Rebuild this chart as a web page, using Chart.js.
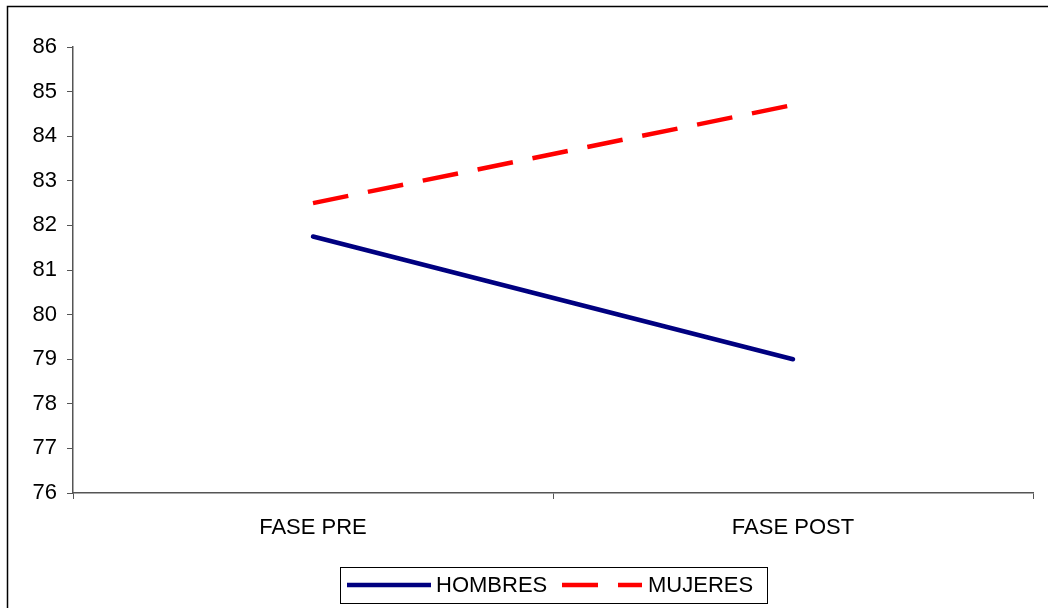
<!DOCTYPE html>
<html>
<head>
<meta charset="utf-8">
<script src="https://cdn.jsdelivr.net/npm/chart.js@4/dist/chart.umd.min.js"></script>
<style>
  html, body { margin: 0; padding: 0; background: #fff; }
  #wrap { width: 1048px; height: 608px; position: relative; }
</style>
</head>
<body>
<div id="wrap"><canvas id="c" width="1048" height="608"></canvas></div>
<script>
// Categories (phases) and the two series
const categories = ['FASE PRE', 'FASE POST'];
const hombres = [81.75, 79.0];
const mujeres = [82.5, 84.7];
const seriesNames = ['HOMBRES', 'MUJERES'];
const yTicks = [76, 77, 78, 79, 80, 81, 82, 83, 84, 85, 86];

const FONT = '"Liberation Sans", Arial, sans-serif';
const AXIS = '#555555';

// Frame around the figure (top and left edges visible)
const framePlugin = {
  id: 'frame',
  beforeDraw(chart) {
    const ctx = chart.ctx;
    ctx.save();
    ctx.fillStyle = '#fff';
    ctx.fillRect(0, 0, chart.width, chart.height);
    ctx.strokeStyle = '#000';
    ctx.lineWidth = 1.5;
    ctx.beginPath();
    ctx.moveTo(7.5, chart.height);
    ctx.lineTo(7.5, 6.5);
    ctx.lineTo(chart.width, 6.5);
    ctx.stroke();
    ctx.restore();
  }
};

// Boxed legend at the bottom
const boxLegend = {
  id: 'boxLegend',
  afterDraw(chart) {
    const ctx = chart.ctx;
    const ds = chart.data.datasets;
    ctx.save();
    ctx.font = '22px ' + FONT;
    ctx.textBaseline = 'middle';
    const x0 = 340, y0 = 567, w = 427, h = 36;
    ctx.strokeStyle = '#000';
    ctx.lineWidth = 1;
    ctx.strokeRect(x0 + 0.5, y0 + 0.5, w, h);
    const cy = y0 + h / 2;
    const items = [
      { sx: 347, ex: 431, tx: 436 },
      { sx: 562, ex: 642, tx: 648 }
    ];
    ds.forEach((d, i) => {
      const it = items[i];
      ctx.strokeStyle = d.borderColor;
      ctx.lineWidth = d.borderWidth;
      ctx.lineCap = 'butt';
      ctx.setLineDash(d.borderDash || []);
      ctx.beginPath();
      ctx.moveTo(it.sx, cy);
      ctx.lineTo(it.ex, cy);
      ctx.stroke();
      ctx.setLineDash([]);
      ctx.fillStyle = '#000';
      ctx.fillText(d.label, it.tx, cy + 1);
    });
    ctx.restore();
  }
};

new Chart(document.getElementById('c'), {
  type: 'line',
  data: {
    labels: categories,
    datasets: [
      {
        label: seriesNames[0],
        data: hombres,
        borderColor: '#000080',
        backgroundColor: '#000080',
        borderWidth: 4.5,
        pointRadius: 0,
        tension: 0,
        borderCapStyle: 'round'
      },
      {
        label: seriesNames[1],
        data: mujeres,
        borderColor: '#ff0000',
        backgroundColor: '#ff0000',
        borderWidth: 4.5,
        borderDash: [36, 20],
        pointRadius: 0,
        tension: 0,
        borderCapStyle: 'butt'
      }
    ]
  },
  options: {
    responsive: false,
    animation: false,
    events: [],
    layout: { padding: { left: 0, right: 15, top: 47, bottom: 65 } },
    plugins: {
      legend: { display: false },
      tooltip: { enabled: false }
    },
    scales: {
      x: {
        offset: true,
        grid: {
          display: true,
          offset: true,
          drawOnChartArea: false,
          drawTicks: true,
          tickLength: 6,
          color: AXIS,
          lineWidth: 1
        },
        border: { display: true, color: AXIS, width: 1.5 },
        ticks: {
          color: '#000',
          font: { family: FONT, size: 22 },
          padding: 16,
          maxRotation: 0
        },
        afterFit(scale) { scale.height = 50; }
      },
      y: {
        min: 76,
        max: 86,
        afterBuildTicks(scale) { scale.ticks = yTicks.map(v => ({ value: v })); },
        grid: {
          display: true,
          drawOnChartArea: false,
          drawTicks: true,
          tickLength: 6,
          color: AXIS,
          lineWidth: 1
        },
        border: { display: true, color: AXIS, width: 1.5 },
        ticks: {
          color: '#000',
          font: { family: FONT, size: 22 },
          padding: 10
        },
        afterFit(scale) { scale.width = 73; }
      }
    }
  },
  plugins: [framePlugin, boxLegend]
});
</script>
</body>
</html>
